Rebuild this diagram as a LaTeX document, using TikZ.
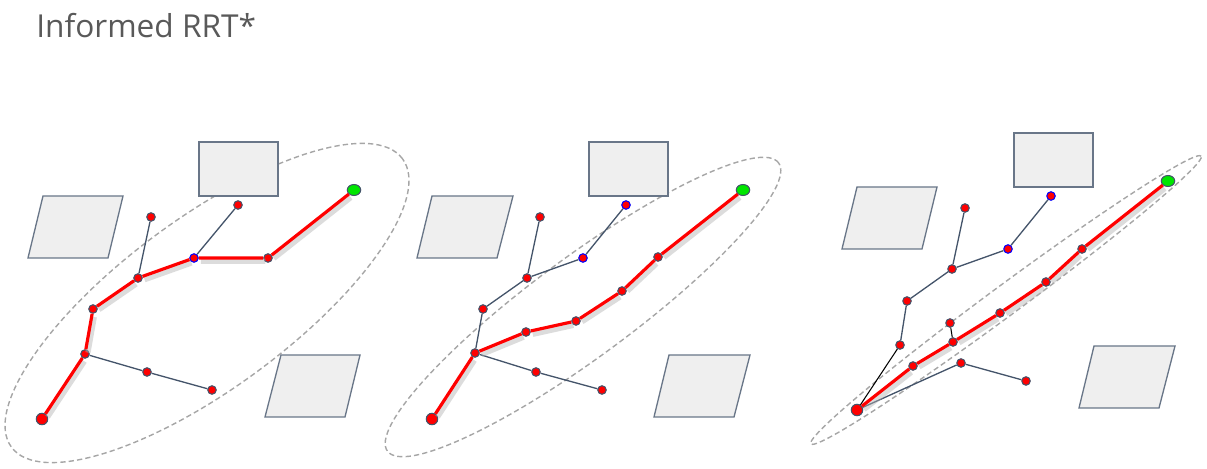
\documentclass[tikz,border=0pt]{standalone}
\usepackage{fontspec}
\setmainfont{Open Sans}
\usetikzlibrary{shapes.geometric}

\definecolor{slate}{HTML}{44546A}
\definecolor{obstaclegray}{HTML}{EFEFEF}
\definecolor{regiongray}{HTML}{A6A6A6}
\definecolor{titlegray}{HTML}{595959}
\definecolor{goalgreen}{HTML}{00E600}

\begin{document}
\begin{tikzpicture}[
    x=0.02cm, y=-0.02cm, % one unit is one pixel of the slide
    vertex/.style={draw=slate, fill=red, circle, inner sep=0pt, minimum size=0.17cm, line width=0.6pt},
    newvertex/.style={vertex, draw=blue},
    start/.style={vertex, minimum size=0.23cm},
    goal/.style={draw=slate, fill=goalgreen, ellipse, inner sep=0pt, minimum width=0.27cm, minimum height=0.22cm, line width=0.6pt},
    edge/.style={draw=slate, line width=0.75pt},
    rewire/.style={draw=black, line width=0.6pt},
    bestpath/.style={draw=red, line width=1.8pt, line join=round},
    glow/.style={draw=black!30, line width=3pt, opacity=0.45, transform canvas={xshift=1.2pt, yshift=-1.9pt}},
    region/.style={draw=regiongray, dash pattern=on 3pt off 1.8pt, line width=0.8pt},
    obstacle/.style={draw=slate!80, fill=obstaclegray, line width=0.75pt},
]

\useasboundingbox (0,0) rectangle (1207,469);

% Title
\node[anchor=base west, inner sep=0pt, text=titlegray, font=\fontsize{18}{22}\selectfont] (title) at (36,38) {Informed RRT*};

% Sampling ellipses, shrinking from left to right
\draw[region, rotate around={36.4:(207,303)}] (207,303) ellipse [x radius=4.86cm, y radius=1.7cm];
\draw[region, rotate around={36.4:(583,307)}] (583,307) ellipse [x radius=4.86cm, y radius=1cm];
\draw[region, rotate around={36.4:(1006,300)}] (1006,300) ellipse [x radius=4.85cm, y radius=0.3cm];

% Obstacles of the first panel
\draw[obstacle] (199,142) rectangle (278,196);
\draw[obstacle] (43,196) -- (123,196) -- (108,258) -- (28,258) -- cycle;
\draw[obstacle] (281,355) -- (360,355) -- (345,417) -- (265,417) -- cycle;

% Obstacles of the second panel
\draw[obstacle] (589,142) rectangle (668,196);
\draw[obstacle] (432,196) -- (513,196) -- (497,258) -- (417,258) -- cycle;
\draw[obstacle] (669,355) -- (750,355) -- (734,417) -- (654,417) -- cycle;

% Obstacles of the third panel
\draw[obstacle] (1014,133) rectangle (1093,187);
\draw[obstacle] (857,187) -- (937,187) -- (922,249) -- (842,249) -- cycle;
\draw[obstacle] (1094,346) -- (1175,346) -- (1159,408) -- (1079,408) -- cycle;

% Tree of the first panel
\node[start] (startA) at (42,419) {};
\node[goal] (goalA) at (354,190) {};
\node[vertex] (a1) at (85,354) {};
\node[vertex] (a2) at (93,309) {};
\node[vertex] (a3) at (138,278) {};
\node[newvertex] (a4) at (194,258) {};
\node[vertex] (a5) at (268,258) {};
\node[vertex] (a6) at (151,217) {};
\node[vertex] (a7) at (238,205) {};
\node[vertex] (a8) at (147,372) {};
\node[vertex] (a9) at (212,390) {};

\draw[edge] (a1) -- (a8) -- (a9);
\draw[edge] (a3) -- (a6);
\draw[edge] (a4) -- (a7);
\draw[glow] (startA) -- (a1) -- (a2) -- (a3) -- (a4) -- (a5) -- (goalA);
\draw[bestpath] (startA) -- (a1) -- (a2) -- (a3) -- (a4) -- (a5) -- (goalA);

% Tree of the second panel
\node[start] (startB) at (432,419) {};
\node[goal] (goalB) at (743,190) {};
\node[vertex] (b1) at (475,353) {};
\node[vertex] (b2) at (483,309) {};
\node[vertex] (b3) at (527,278) {};
\node[newvertex] (b4) at (583,258) {};
\node[newvertex] (b5) at (626,205) {};
\node[vertex] (b6) at (540,217) {};
\node[vertex] (b7) at (536,372) {};
\node[vertex] (b8) at (602,390) {};
\node[vertex] (b9) at (526,332) {};
\node[vertex] (b10) at (576,321) {};
\node[vertex] (b11) at (622,291) {};
\node[vertex] (b12) at (658,257) {};

\draw[edge] (b1) -- (b2) -- (b3) -- (b6);
\draw[edge] (b3) -- (b4) -- (b5);
\draw[edge] (b1) -- (b7) -- (b8);
\draw[glow] (startB) -- (b1) -- (b9) -- (b10) -- (b11) -- (b12) -- (goalB);
\draw[bestpath] (startB) -- (b1) -- (b9) -- (b10) -- (b11) -- (b12) -- (goalB);

% Tree of the third panel
\node[start] (startC) at (857,410) {};
\node[goal] (goalC) at (1168,181) {};
\node[vertex] (c1) at (913,366) {};
\node[vertex] (c2) at (953,342) {};
\node[vertex] (c3) at (1000,313) {};
\node[vertex] (c4) at (1046,282) {};
\node[vertex] (c5) at (1082,249) {};
\node[vertex] (c6) at (900,345) {};
\node[vertex] (c7) at (907,301) {};
\node[vertex] (c8) at (952,269) {};
\node[vertex] (c9) at (965,208) {};
\node[newvertex] (c10) at (1008,249) {};
\node[newvertex] (c11) at (1051,196) {};
\node[vertex] (c12) at (950,323) {};
\node[vertex] (c13) at (961,363) {};
\node[vertex] (c14) at (1026,381) {};

\draw[rewire] (startC) -- (c6);
\draw[rewire] (c2) -- (c12);
\draw[edge] (c6) -- (c7) -- (c8) -- (c9);
\draw[edge] (c8) -- (c10) -- (c11);
\draw[edge] (startC) -- (c13) -- (c14);
\draw[glow] (startC) -- (c1) -- (c2) -- (c3) -- (c4) -- (c5) -- (goalC);
\draw[bestpath] (startC) -- (c1) -- (c2) -- (c3) -- (c4) -- (c5) -- (goalC);

\end{tikzpicture}
\end{document}
